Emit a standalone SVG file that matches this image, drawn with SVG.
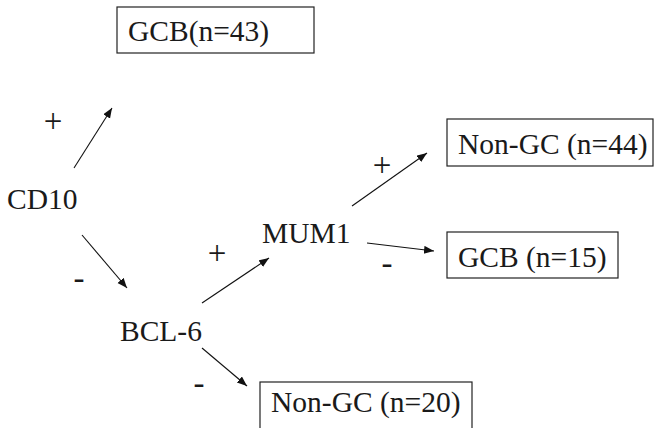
<svg xmlns="http://www.w3.org/2000/svg" width="654" height="428" viewBox="0 0 654 428">
<style>
text{font-family:"Liberation Serif","Times New Roman",serif;font-size:29.5px;fill:#1a1a1a}
.sign{text-anchor:middle;font-size:33px}
.box{fill:none;stroke:#222;stroke-width:1.2}
.edge{stroke:#111;stroke-width:1.1;fill:none;marker-end:url(#ah)}
</style>
<defs>
<marker id="ah" markerUnits="userSpaceOnUse" markerWidth="12" markerHeight="10" refX="10" refY="4" orient="auto">
<path d="M0,0 L10,4 L0,8 Z" fill="#111"/>
</marker>
</defs>
<rect width="654" height="428" fill="#fff"/>
<g id="edges">
<line class="edge" x1="74" y1="168" x2="112" y2="108"/>
<line class="edge" x1="82" y1="235" x2="127" y2="288"/>
<line class="edge" x1="202" y1="303" x2="269" y2="258"/>
<line class="edge" x1="202" y1="348" x2="247" y2="386"/>
<line class="edge" x1="352" y1="206" x2="427" y2="153"/>
<line class="edge" x1="367" y1="243" x2="434" y2="251"/>
</g>
<g id="signs">
<text class="sign" x="53" y="132">+</text>
<text class="sign" x="79" y="289">-</text>
<text class="sign" x="217" y="264">+</text>
<text class="sign" x="199" y="394">-</text>
<text class="sign" x="382" y="176">+</text>
<text class="sign" x="387" y="274">-</text>
</g>
<g id="gcb43"><rect class="box" x="117" y="7" width="197" height="46"/><text x="128" y="41">GCB(n=43)</text></g>
<g id="cd10"><text x="7" y="209">CD10</text></g>
<g id="mum1"><text x="262" y="243">MUM1</text></g>
<g id="bcl6"><text x="120" y="341">BCL-6</text></g>
<g id="nongc44"><rect class="box" x="447" y="119" width="206" height="47"/><text x="458" y="154">Non-GC (n=44)</text></g>
<g id="gcb15"><rect class="box" x="447" y="232" width="171" height="46"/><text x="458" y="267">GCB (n=15)</text></g>
<g id="nongc20"><rect class="box" x="260" y="382" width="212" height="60"/><text x="271" y="412">Non-GC (n=20)</text></g>
</svg>
